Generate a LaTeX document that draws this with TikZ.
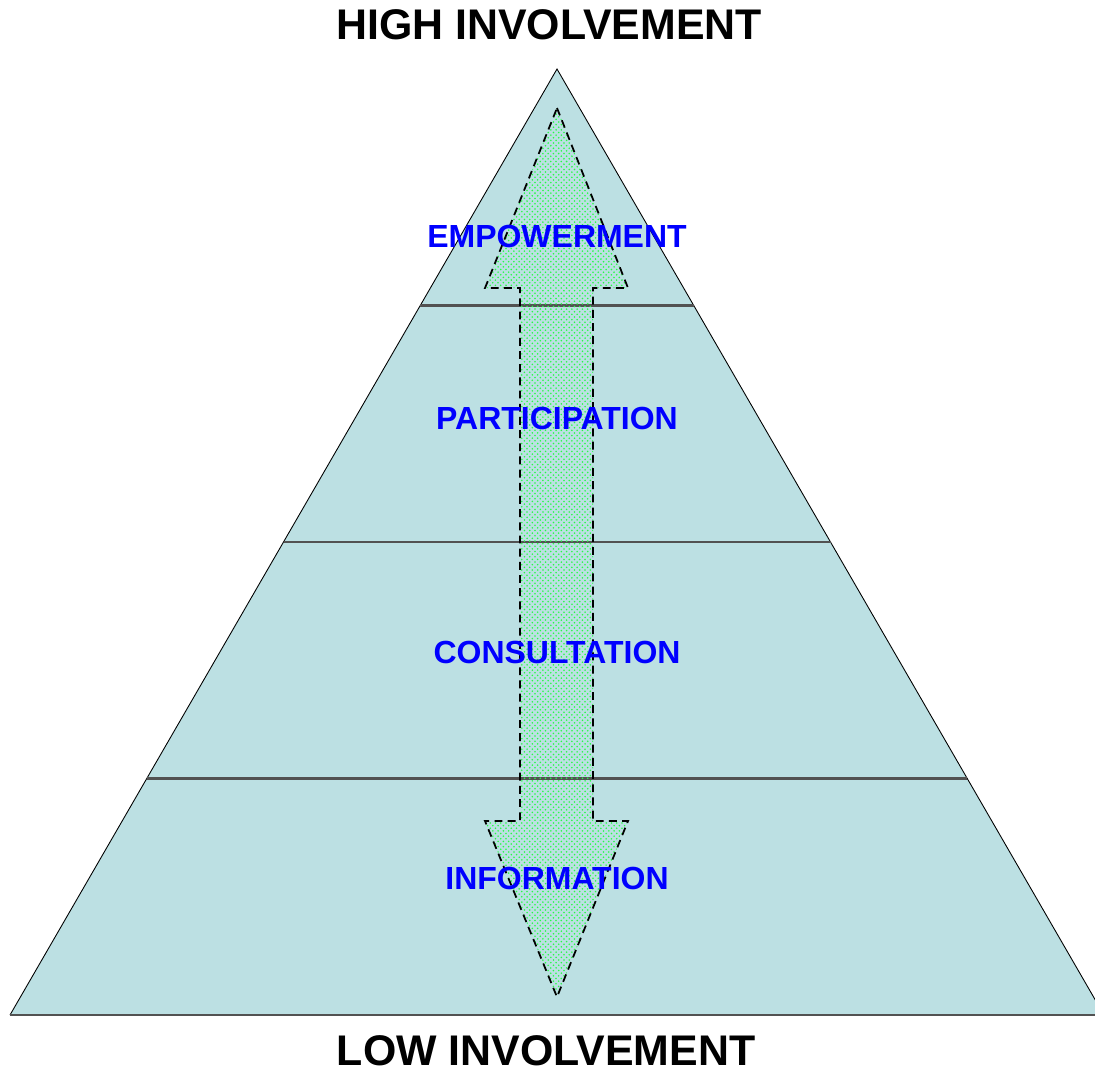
\documentclass[tikz,border=0pt]{standalone}
\usepackage{fontspec}
\setmainfont{Liberation Sans}
\usepackage{tikz}
\usetikzlibrary{calc,patterns}
\definecolor{pyramid}{RGB}{188,224,227}
\definecolor{dotgreen}{RGB}{40,250,70}
\tikzstyle{title} = [font=\bfseries\fontsize{24.4}{28}\selectfont, text=black, inner sep=0pt]
\tikzset{
 lv/.style
  = {font=\bfseries\fontsize{18.2}{20}\selectfont, text=blue, inner sep=0pt},
 band/.style
  = {draw=black!68, line width=1.6pt},
 arr/.style
  = {draw, dashed, dash pattern=on 4.5pt off 3pt, line width=1pt,
     pattern=crosshatch dots, pattern color=dotgreen},
}

\begin{document}
\begin{tikzpicture}[x=0.02cm, y=-0.02cm]
\useasboundingbox (0,0) rectangle (1095,1076);

% Pyramid
\coordinate (top) at (557,69);
\coordinate (bl) at (10,1015);
\coordinate (br) at (1104,1015);
\fill[pyramid] (top) -- (bl) -- (br) -- cycle;
\draw[line width=0.5pt] (bl) -- (top) -- (br);
\draw[band] (bl) -- (br);

% Levels
\foreach \f in {0.25,0.5,0.75}
  \draw[band] ($(top)!\f!(bl)$) -- ($(top)!\f!(br)$);

% Double arrow
\draw[arr] (557,108) -- (628,288) -- (593,288) -- (593,821) -- (628,821)
  -- (557,997) -- (485,821) -- (520,821) -- (520,288) -- (485,288) -- cycle;

% Level labels
\node[lv] (emp) at (557,236) {EMPOWERMENT};
\node[lv] (par) at (557,418) {PARTICIPATION};
\node[lv] (con) at (557,652) {CONSULTATION};
\node[lv] (inf) at (557,878) {INFORMATION};

% Titles
\node[title] (high) at (549,25) {HIGH INVOLVEMENT};
\node[title] (low) at (546,1051) {LOW INVOLVEMENT};

\end{tikzpicture}
\end{document}
